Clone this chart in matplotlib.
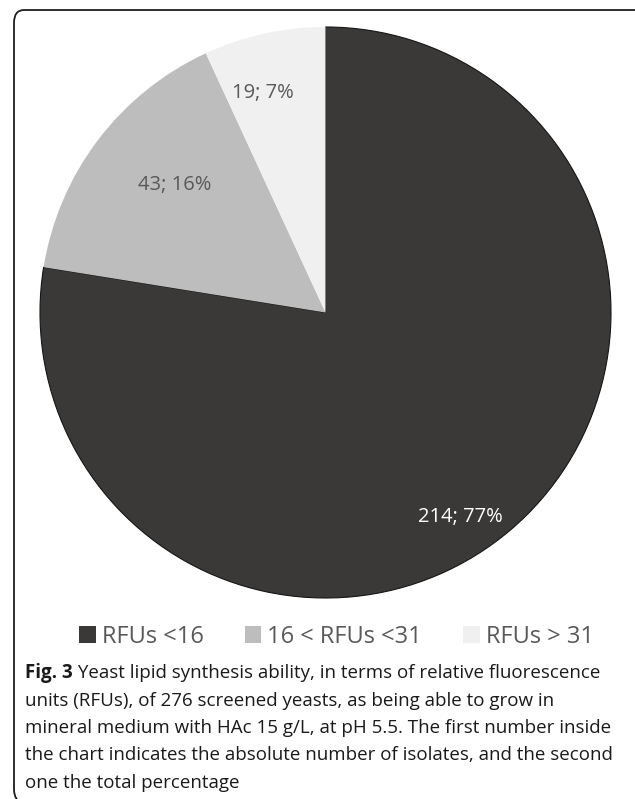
import matplotlib
matplotlib.use('Agg')
import matplotlib.pyplot as plt
from matplotlib.patches import FancyBboxPatch, Patch
import numpy as np

plt.rcParams['font.family'] = ['Open Sans', 'DejaVu Sans']

# isolate counts per RFU class
categories = ['RFUs <16', '16 < RFUs <31', 'RFUs > 31']
counts = [214, 43, 19]
percents = [77, 16, 7]
colors = ['#3a3937', '#bdbdbd', '#f0f0f0']
label_colors = ['white', '#595959', '#595959']

caption_bold = 'Fig. 3'
caption_lines = [
    ' Yeast lipid synthesis ability, in terms of relative fluorescence',
    'units (RFUs), of 276 screened yeasts, as being able to grow in',
    'mineral medium with HAc 15 g/L, at pH 5.5. The first number inside',
    'the chart indicates the absolute number of isolates, and the second',
    'one the total percentage',
]

W, H = 635, 799
fig = plt.figure(figsize=(W / 100, H / 100), dpi=100)

# rounded frame, running off the right and bottom edges
frame = FancyBboxPatch((14 / W, -3 / H), 650 / W, (H - 7) / H,
                       boxstyle='round,pad=0,rounding_size=0.016',
                       transform=fig.transFigure, facecolor='none',
                       edgecolor='#1e1e1e', linewidth=1.3)
fig.patches.append(frame)

cx, cy, r = 325.5, 312.5, 285.5
ax = fig.add_axes([(cx - r) / W, (H - cy - r) / H, 2 * r / W, 2 * r / H])
wedges, _ = ax.pie(counts, colors=colors, startangle=90, counterclock=False,
                   radius=1.0, wedgeprops=dict(linewidth=0))
wedges[0].set_edgecolor('#151515')
wedges[0].set_linewidth(0.8)
ax.set_xlim(-1, 1)
ax.set_ylim(-1, 1)
ax.axis('off')

# label placement: radius fraction and angle shift from wedge middle
label_r = [0.86, 0.69, 0.80]
label_shift = [-7, -3, 3.5]
for w, n, p, c, rr, sh in zip(wedges, counts, percents, label_colors,
                              label_r, label_shift):
    ang = np.deg2rad((w.theta1 + w.theta2) / 2 + sh)
    ax.text(rr * np.cos(ang), rr * np.sin(ang), f'{n}; {p}%',
            ha='center', va='center', fontsize=14.5, color=c)

handles = [Patch(facecolor=c, edgecolor='none') for c in colors]
leg = fig.legend(handles, categories, loc='center', ncol=3,
                 bbox_to_anchor=(0.53, 1 - 637 / H), frameon=False,
                 fontsize=17, handlelength=0.7, handleheight=0.7,
                 handletextpad=0.25, columnspacing=1.75)
for t in leg.get_texts():
    t.set_color('#595959')

# caption
y0 = 673
dy = 27.5
x0 = 25
t_bold = fig.text(x0 / W, 1 - y0 / H, caption_bold, fontsize=13.5,
                  fontweight='bold', va='center', ha='left', color='#1a1a1a')
fig.canvas.draw()
bb = t_bold.get_window_extent()
fig.text(bb.x1 / W, 1 - y0 / H, caption_lines[0], fontsize=13.5,
         va='center', ha='left', color='#1a1a1a')
for i, line in enumerate(caption_lines[1:], start=1):
    fig.text(x0 / W, 1 - (y0 + i * dy) / H, line, fontsize=13.5,
             va='center', ha='left', color='#1a1a1a')

fig.savefig('out.png', dpi=100)
